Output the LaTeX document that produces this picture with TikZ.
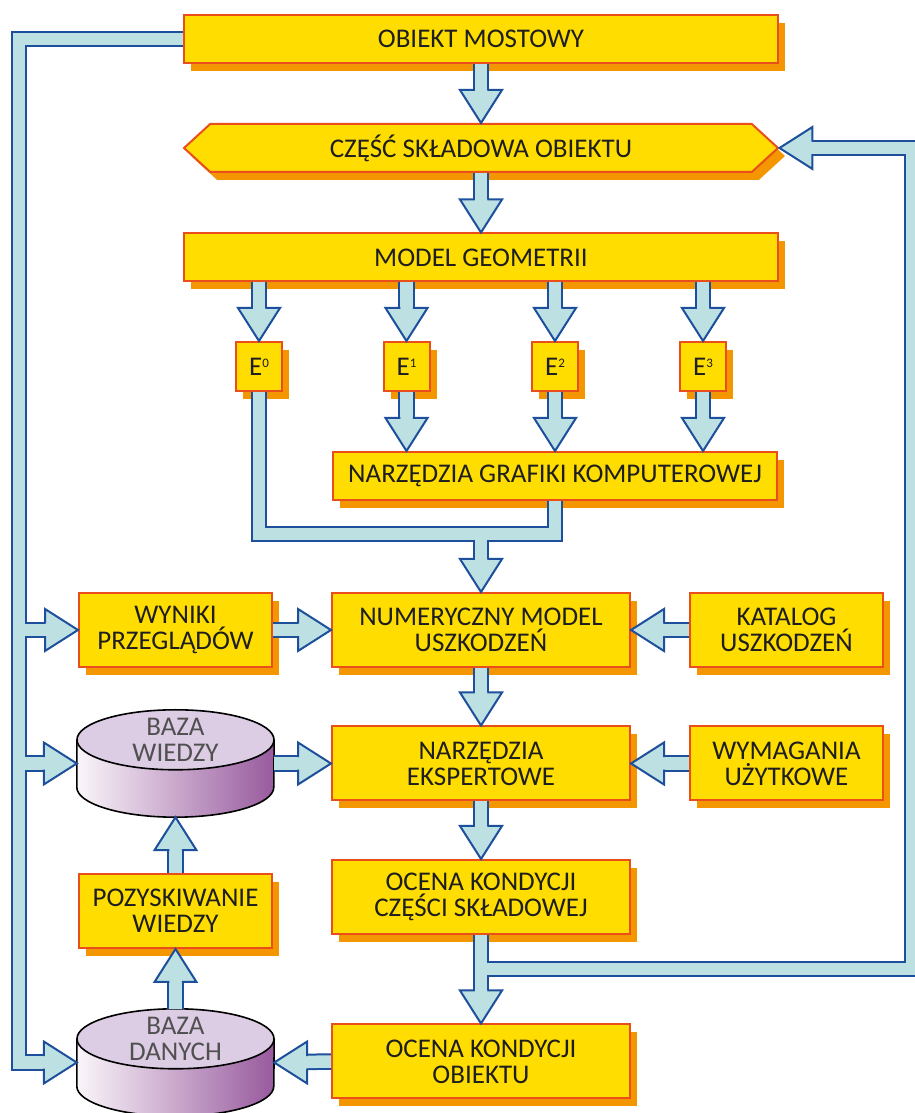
\documentclass[tikz,border=0pt]{standalone}
\usepackage{fontspec}
\setmainfont{Carlito}
\usepackage{tikz}
\usetikzlibrary{shapes.symbols,shadows,calc,positioning}
\definecolor{boxYellow}{RGB}{255,221,0}
\definecolor{boxRed}{RGB}{233,78,27}
\definecolor{boxShade}{RGB}{243,150,0}
\definecolor{pipeBlue}{RGB}{29,79,156}
\definecolor{pipeCyan}{RGB}{189,224,226}
\definecolor{textDark}{RGB}{30,30,30}
\definecolor{cylTop}{RGB}{220,205,228}
\definecolor{cylLeft}{RGB}{250,246,250}
\definecolor{cylRight}{RGB}{152,90,158}
\definecolor{cylText}{RGB}{80,80,80}

% head of a fat arrow: tip, direction
\newcommand{\pipehead}[2]{%
  \begin{scope}[shift={#1}, rotate=#2]
    \fill[pipeCyan] (-33,21) -- (0,0) -- (-33,-21) -- cycle;
    \draw[headline] (-33,6.25) -- (-33,21) -- (0,0) -- (-33,-21) -- (-33,-6.25);
  \end{scope}}
% straight fat arrow: from, to, direction
\newcommand{\fat}[3]{%
  \draw[pipe] #1 -- ($#2!32pt!#1$);
  \pipehead{#2}{#3}}
% database drum round an empty node
\newcommand{\dbcyl}[1]{%
  \shade[left color=cylLeft, right color=cylRight]
    ($(#1.north west)+(0,-30)$) -- ($(#1.south west)+(0,30)$)
    arc[start angle=180, end angle=360, x radius=98.5pt, y radius=30pt]
    -- ($(#1.north east)+(0,-30)$) -- cycle;
  \draw[cylline] ($(#1.north west)+(0,-30)$) -- ($(#1.south west)+(0,30)$)
    arc[start angle=180, end angle=360, x radius=98.5pt, y radius=30pt]
    -- ($(#1.north east)+(0,-30)$);
  \draw[cylline, fill=cylTop] ($(#1.north)+(0,-30)$) ellipse[x radius=98.5pt, y radius=30pt];}
\newcommand{\esup}[1]{\raisebox{8pt}{\fontsize{13pt}{13pt}\selectfont #1}}

\begin{document}
\begin{tikzpicture}[x=1pt, y=1pt,
    box/.style={draw=boxRed, fill=boxYellow, line width=2pt, text=textDark, align=center,
      font=\fontsize{27pt}{26pt}\selectfont, inner sep=2pt,
      drop shadow={shadow xshift=7pt, shadow yshift=-8pt, fill=boxShade, opacity=1}},
    wide/.style={box, minimum width=594pt, minimum height=48pt},
    mid/.style={box, minimum width=298pt, minimum height=74pt},
    side/.style={box, minimum width=193pt, minimum height=74pt},
    ebox/.style={box, minimum width=46pt, minimum height=49pt, inner sep=0pt},
    dbase/.style={minimum width=197pt, minimum height=107pt, inner sep=0pt},
    dblabel/.style={align=center, text=cylText, inner sep=0pt,
      font=\fontsize{27pt}{26pt}\selectfont},
    cylline/.style={draw=black, line width=1.6pt},
    pipe/.style={draw=pipeBlue, line width=2pt, double=pipeCyan,
      double distance=12.5pt, line join=miter},
    headline/.style={draw=pipeBlue, line width=2pt, line join=miter}
  ]
  \useasboundingbox (0,0) rectangle (914,1113);

  % main column
  \node[wide] (obiekt) at (481,1074) {OBIEKT MOSTOWY};
  \node[box, signal, signal to=east and west, signal pointer angle=85,
    minimum width=594pt, minimum height=48pt] (czesc) at (481,965) {CZĘŚĆ SKŁADOWA OBIEKTU};
  \node[wide] (model) at (481,855.5) {MODEL GEOMETRII};
  \node[ebox] (e0) at (259,746.5) {E\esup{0}};
  \node[ebox] (e1) at (406.5,746.5) {E\esup{1}};
  \node[ebox] (e2) at (555,746.5) {E\esup{2}};
  \node[ebox] (e3) at (703,746.5) {E\esup{3}};
  \node[box, minimum width=444pt, minimum height=48pt] (ngk) at (555,637) {NARZĘDZIA GRAFIKI KOMPUTEROWEJ};
  \node[mid] (num) at (481,483) {NUMERYCZNY MODEL\\USZKODZEŃ};
  \node[mid] (ne) at (481,349.5) {NARZĘDZIA\\EKSPERTOWE};
  \node[mid] (ocenaC) at (481,216) {OCENA KONDYCJI\\CZĘŚCI SKŁADOWEJ};
  \node[mid] (ocenaO) at (481,51.5) {OCENA KONDYCJI\\OBIEKTU};

  % side boxes
  \node[side] (wyniki) at (175.5,483) {WYNIKI\\PRZEGLĄDÓW};
  \node[side] (katalog) at (786.5,483) {KATALOG\\USZKODZEŃ};
  \node[side] (wymag) at (786.5,349.5) {WYMAGANIA\\UŻYTKOWE};
  \node[side] (poz) at (175.5,202) {POZYSKIWANIE\\WIEDZY};

  % databases
  \node[dbase] (bw) at (175.5,349.5) {};
  \dbcyl{bw}
  \node[dblabel] (bwtxt) at ($(bw.north)+(0,-30)$) {BAZA\\WIEDZY};
  \node[dbase] (bd) at (175.5,50.5) {};
  \dbcyl{bd}
  \node[dblabel] (bdtxt) at ($(bd.north)+(0,-30)$) {BAZA\\DANYCH};

  % fat arrows
  \fat{(obiekt.south)}{(czesc.north)}{-90}
  \fat{(czesc.south)}{(model.north)}{-90}
  \foreach \e in {e0,e1,e2,e3}
    \fat{(\e.north |- model.south)}{(\e.north)}{-90};
  \foreach \e in {e1,e2,e3}
    \fat{(\e.south)}{(\e.south |- ngk.north)}{-90};
  \fat{(wyniki.east)}{(num.west)}{0}
  \fat{(katalog.west)}{(num.east)}{180}
  \fat{(bw.east)}{(ne.west)}{0}
  \fat{(wymag.west)}{(ne.east)}{180}
  \fat{(num.south)}{(ne.north)}{-90}
  \fat{(ne.south)}{(ocenaC.north)}{-90}
  \fat{(poz.north)}{(bw.south)}{90}
  \fat{(bd.north)}{(poz.south)}{90}
  \fat{(ocenaO.west)}{(bd.east)}{180}

  % E0 and graphics tools join
  \coordinate (mrg) at ($(num.north)+(0,58)$);
  \draw[pipe] (e0.south) |- (mrg) -| (ngk.south)
    (mrg) -- ($(num.north)+(0,32)$);
  \pipehead{(num.north)}{-90}

  % left feed from the bridge
  \coordinate (lft) at ($(obiekt.west)+(-164,0)$);
  \draw[pipe] (obiekt.west) -- (lft) |- ($(bd.west)+(-32,0)$)
    (lft |- wyniki.west) -- ($(wyniki.west)+(-32,0)$)
    (lft |- bw.west) -- ($(bw.west)+(-32,0)$);
  \pipehead{(wyniki.west)}{0}
  \pipehead{(bw.west)}{0}
  \pipehead{(bd.west)}{0}

  % loop back to next component
  \coordinate (split) at ($(ocenaC.south)+(0,-34)$);
  \coordinate (rt) at ($(czesc.east)+(133,0)$);
  \draw[pipe] (ocenaC.south) -- ($(ocenaO.north)+(0,32)$)
    (split) -| (rt) -- ($(czesc.east)+(32,0)$);
  \pipehead{(ocenaO.north)}{-90}
  \pipehead{(czesc.east)}{180}
\end{tikzpicture}
\end{document}
